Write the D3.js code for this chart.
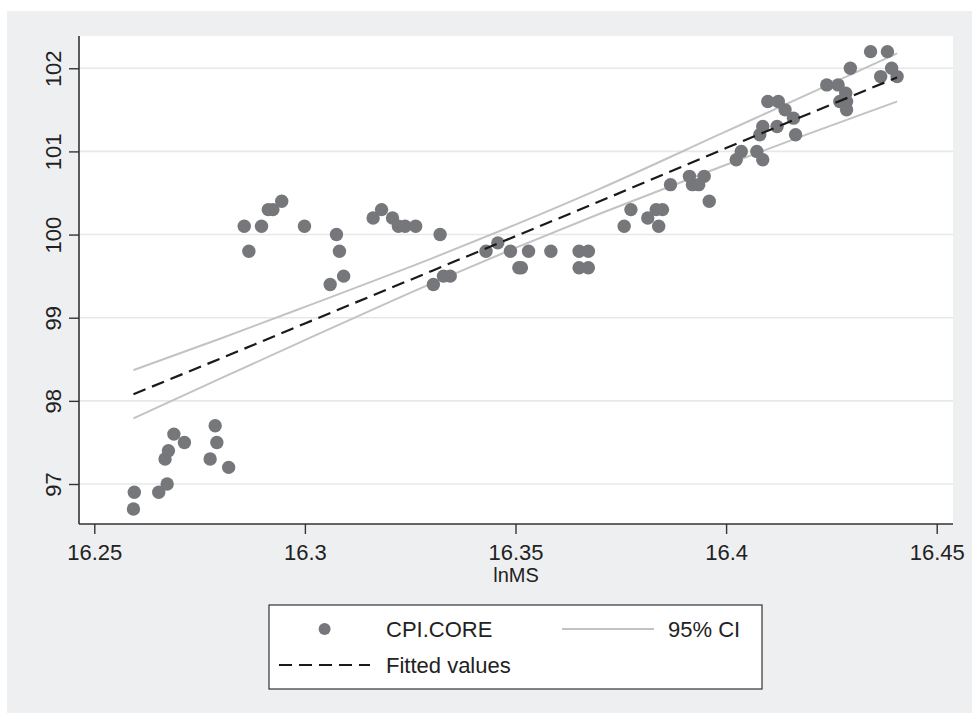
<!DOCTYPE html>
<html><head><meta charset="utf-8">
<script src="https://cdn.jsdelivr.net/npm/d3@7"></script>
<style>html,body{margin:0;padding:0;background:#fff;}svg{display:block;font-family:"Liberation Sans",Arial,Helvetica,sans-serif;}</style>
</head><body>
<svg id="chart" width="972" height="713"></svg>
<script>
// ---- data ----
const lnMS = [16.2595,16.2593,16.2653,16.2673,16.2668,16.2676,16.2689,16.2714,16.2775,16.2787,16.2791,16.2819,
16.2856,16.2867,16.2897,16.2913,16.2924,16.2945,16.2999,16.3075,16.3082,16.3060,16.3092,
16.3162,16.3182,16.3208,16.3222,16.3238,16.3263,16.3321,16.3305,16.3329,16.3345,
16.3430,16.3458,16.3488,16.3508,16.3514,16.3531,16.3584,16.3651,16.3673,16.3651,16.3673,
16.3758,16.3774,16.3814,16.3834,16.3849,16.3840,16.3868,16.3913,16.3920,16.3935,16.3948,16.3960,
16.4024,16.4036,16.4073,16.4087,16.4080,16.4087,16.4121,16.4099,16.4124,16.4140,16.4160,16.4165,
16.4239,16.4266,16.4284,16.4270,16.4286,16.4286,16.4295,16.4343,16.4383,16.4393,16.4367,16.4406];
const cpiCore = [96.9,96.7,96.9,97.0,97.3,97.4,97.6,97.5,97.3,97.7,97.5,97.2,
100.1,99.8,100.1,100.3,100.3,100.4,100.1,100.0,99.8,99.4,99.5,
100.2,100.3,100.2,100.1,100.1,100.1,100.0,99.4,99.5,99.5,
99.8,99.9,99.8,99.6,99.6,99.8,99.8,99.8,99.8,99.6,99.6,
100.1,100.3,100.2,100.3,100.3,100.1,100.6,100.7,100.6,100.6,100.7,100.4,
100.9,101.0,101.0,100.9,101.2,101.3,101.3,101.6,101.6,101.5,101.4,101.2,
101.8,101.8,101.7,101.6,101.6,101.5,102.0,102.2,102.2,102.0,101.9,101.9];
const fitX     = [16.2593,16.28,16.30,16.33,16.35,16.37,16.40,16.42,16.4406];
const fitted   = [98.08,98.51,98.93,99.56,99.98,100.40,101.04,101.46,101.89];
const ciUpper  = [98.37,98.75,99.13,99.71,100.12,100.55,101.24,101.70,102.18];
const ciLower  = [97.79,98.27,98.73,99.41,99.84,100.25,100.84,101.22,101.60];
const xTicks = [16.25,16.3,16.35,16.4,16.45];
const xTickLabels = ["16.25","16.3","16.35","16.4","16.45"];
const yTicks = [97,98,99,100,101,102];
const yTickLabels = ["97","98","99","100","101","102"];
const xTitle = "lnMS";
const legendLabels = ["CPI.CORE","95% CI","Fitted values"];

// ---- layout ----
const svg = d3.select("#chart");
const L = 79, R = 953, T = 36, B = 524;
svg.append("rect").attr("x",7).attr("y",11).attr("width",965).attr("height",702).attr("fill","#eeeff1");
svg.append("rect").attr("x",L).attr("y",T).attr("width",R-L).attr("height",B-T).attr("fill","#ffffff");

const x = d3.scaleLinear().domain([16.24637,16.45387]).range([L,R]);
const y = d3.scaleLinear().domain([96.519,102.388]).range([B,T]);

// grid
svg.append("g").selectAll("line").data(yTicks).join("line")
  .attr("x1",L).attr("x2",R).attr("y1",d=>y(d)).attr("y2",d=>y(d))
  .attr("stroke","#e8e8e8").attr("stroke-width",1.6);

// CI lines
const line = (ys)=>d3.line().curve(d3.curveMonotoneX).x((d,i)=>x(fitX[i])).y((d,i)=>y(ys[i]))(fitX);
[ciUpper,ciLower].forEach(arr=>{
  svg.append("path").attr("d",line(arr)).attr("fill","none").attr("stroke","#c3c3c3").attr("stroke-width",2);
});

// points
svg.append("g").selectAll("circle").data(lnMS).join("circle")
  .attr("cx",d=>x(d)).attr("cy",(d,i)=>y(cpiCore[i])).attr("r",6.7).attr("fill","#76777b");

// fitted
svg.append("path").attr("d",line(fitted)).attr("fill","none").attr("stroke","#1a1a1a")
  .attr("stroke-width",2.2).attr("stroke-dasharray","13,7");

// axes
const xAxis = d3.axisBottom(x).tickValues(xTicks).tickFormat((d,i)=>xTickLabels[i]).tickSize(10).tickSizeOuter(0);
const gx = svg.append("g").attr("transform",`translate(0,${B})`).call(xAxis);
gx.select(".domain").attr("d",`M${L},0H${R}`).attr("stroke","#333").attr("stroke-width",1.6);
gx.selectAll(".tick line").attr("stroke","#333").attr("stroke-width",1.4);
gx.selectAll(".tick text").attr("font-size",22).attr("fill","#222").attr("dy",null).attr("y",36);

const yAxis = d3.axisLeft(y).tickValues(yTicks).tickFormat((d,i)=>yTickLabels[i]).tickSize(10).tickSizeOuter(0);
const gy = svg.append("g").attr("transform",`translate(${L},0)`).call(yAxis);
gy.select(".domain").attr("d",`M0,${T}V${B}`).attr("stroke","#333").attr("stroke-width",1.6);
gy.selectAll(".tick line").attr("stroke","#333").attr("stroke-width",1.4);
gy.selectAll(".tick text").attr("font-size",22).attr("fill","#222")
  .attr("x",null).attr("dy",null).attr("text-anchor","middle")
  .attr("transform","translate(-18,0) rotate(-90)");
gx.attr("font-family",null).attr("font-size",null); gy.attr("font-family",null).attr("font-size",null);

svg.append("text").attr("x",(L+R)/2).attr("y",582).attr("text-anchor","middle")
  .attr("font-size",20).attr("fill","#222").text(xTitle);

// legend
const lg = svg.append("g");
lg.append("rect").attr("x",269).attr("y",605).attr("width",493).attr("height",84)
  .attr("fill","#fff").attr("stroke","#333").attr("stroke-width",1.2);
lg.append("circle").attr("cx",324.6).attr("cy",629).attr("r",6).attr("fill","#76777b");
lg.append("text").attr("x",386).attr("y",637).attr("font-size",22).attr("fill","#222").text(legendLabels[0]);
lg.append("line").attr("x1",562).attr("x2",654).attr("y1",629).attr("y2",629).attr("stroke","#c3c3c3").attr("stroke-width",2);
lg.append("text").attr("x",668).attr("y",637).attr("font-size",22).attr("fill","#222").text(legendLabels[1]);
lg.append("line").attr("x1",279).attr("x2",370).attr("y1",665).attr("y2",665).attr("stroke","#1a1a1a")
  .attr("stroke-width",2).attr("stroke-dasharray","13,7");
lg.append("text").attr("x",386).attr("y",673).attr("font-size",22).attr("fill","#222").text(legendLabels[2]);
</script>
</body></html>
